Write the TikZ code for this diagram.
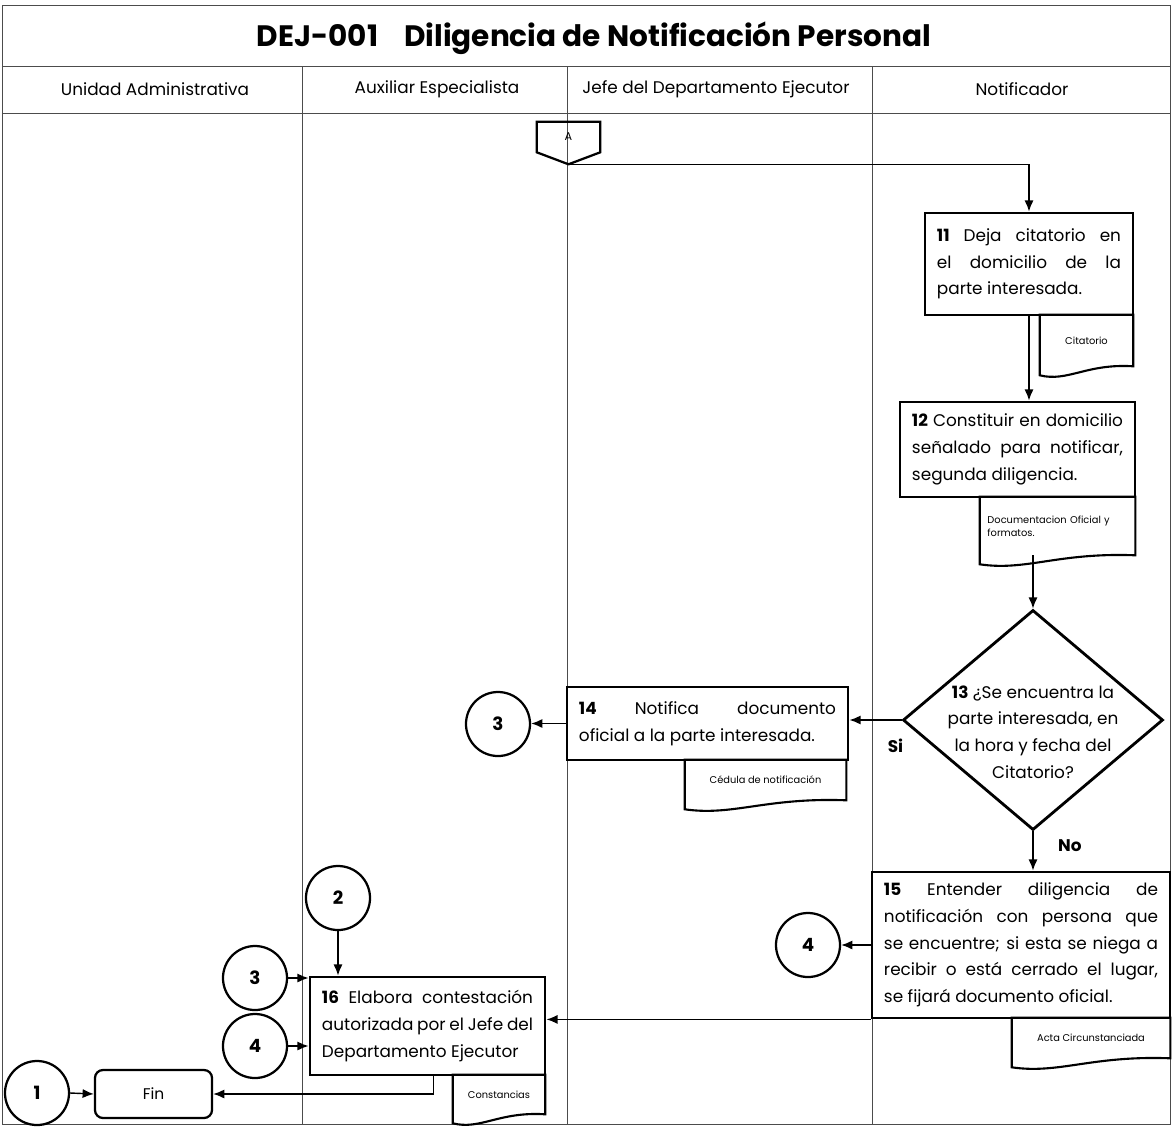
\documentclass[tikz,border=0pt]{standalone}
\usepackage{fontspec}
\setmainfont{Poppins}
\usetikzlibrary{shapes.geometric,arrows.meta,calc}

% document symbol: wavy bottom under a named node
\newcommand\docwave[1]{%
  \draw[docline] (#1.south east) .. controls ($(#1.south)+(0,-3)$)
    and ($(#1.south west)!.3!(#1.south east)+(0,16)$) .. ($(#1.south west)+(0,9)$)
    -- (#1.north west) -- (#1.north east) -- cycle;}

\tikzset{
  proc/.style={draw, line width=2pt, align=justify, inner xsep=0.3cm,
    font=\fontsize{12}{19}\selectfont},
  docline/.style={line width=1.5pt},
  doctext/.style={font=\fontsize{7}{9}\selectfont, inner sep=0},
  conn/.style={circle, draw, line width=1.6pt, minimum size=1.6cm,
    font=\bfseries\fontsize{13}{13}\selectfont},
  arr/.style={-{Latex[length=8pt,width=6.5pt]}, line width=1pt},
  lane/.style={line width=0.5pt, black!70},
  lanehead/.style={font=\fontsize{12}{12}\selectfont}
}

\begin{document}
\begin{tikzpicture}[x=0.025cm,y=-0.025cm]
  \useasboundingbox (0,0) rectangle (1172,1126);

  % frame, title and lanes
  \draw[lane] (2,5) rectangle (1170,1124);
  \draw[lane] (2,66) -- (1170,66);
  \draw[lane] (2,113) -- (1170,113);
  \foreach \x in {302,567,872} {
    \draw[lane] (\x,66) -- (\x,1124);
  }
  \node[font=\bfseries\fontsize{21}{21}\selectfont] (title) at (594,38)
    {DEJ-001\hspace{0.65cm}Diligencia de Notificación Personal};
  \node[lanehead] (h1) at (155,89) {Unidad Administrativa};
  \node[lanehead] (h2) at (437,89) {Auxiliar Especialista};
  \node[lanehead] (h3) at (716,89) {Jefe del Departamento Ejecutor};
  \node[lanehead] (h4) at (1022,89) {Notificador};

  % off-page connector A
  \node[inner sep=0, minimum width=1.575cm, minimum height=0.75cm,
    font=\fontsize{8}{8}\selectfont] (A) at (568.5,137) {A};
  \draw[line width=1.6pt] (A.north west) -- (A.north east) -- (A.south east)
    -- ($(A.south)+(0,12)$) -- (A.south west) -- cycle;
  \coordinate (Ap) at ($(A.south)+(0,12)$);

  % process boxes
  \node[proc, text width=4.6cm, minimum height=2.55cm] (b11) at (1029,264)
    {\textbf{11} Deja citatorio en\linebreak el domicilio de la\linebreak parte interesada.};
  \node[proc, text width=5.275cm, minimum height=2.375cm] (b12) at (1017.5,449.5)
    {\textbf{12} Constituir en domicilio señalado para notificar, segunda diligencia.};
  \node[diamond, draw, line width=2pt, inner sep=0, minimum width=6.5cm,
    minimum height=5.5cm] (d13) at (1033,720) {};
  \node[font=\fontsize{12}{19}\selectfont, align=center] (t13) at (1033,732)
    {\textbf{13} ¿Se encuentra la\\parte interesada, en\\la hora y fecha del\\Citatorio?};
  \node[proc, text width=6.425cm, minimum height=1.825cm] (b14) at (707.5,723.5)
    {\textbf{14} Notifica documento\linebreak oficial a la parte interesada.};
  \node[proc, text width=6.85cm, minimum height=3.65cm] (b15) at (1021,945)
    {\textbf{15} Entender diligencia de\linebreak notificación con persona que\linebreak
     se encuentre; si esta se niega a\linebreak recibir o está cerrado el lugar,\linebreak
     se fijará documento oficial.};
  \node[proc, text width=5.275cm, minimum height=2.45cm] (b16) at (427.5,1026)
    {\textbf{16} Elabora contestación\linebreak autorizada por el Jefe del\linebreak Departamento Ejecutor};
  \node[draw, line width=1.6pt, rounded corners=0.2cm, minimum width=2.925cm,
    minimum height=1.2cm, font=\fontsize{11}{11}\selectfont] (fin) at (153.5,1094) {Fin};

  % documents
  \node[doctext, minimum width=2.325cm, minimum height=1.275cm] (dc11) at (1086.5,340.5) {Citatorio};
  \docwave{dc11}
  \node[doctext, minimum width=3.875cm, minimum height=1.45cm, text width=3.5cm,
    align=left] (dc12) at (1057.5,526) {Documentacion Oficial y\\formatos.};
  \docwave{dc12}
  \node[doctext, minimum width=4.025cm, minimum height=1.0cm] (dc14) at (765.5,780) {Cédula de notificación};
  \docwave{dc14}
  \node[doctext, minimum width=3.95cm, minimum height=1.0cm] (dc15) at (1091,1038) {Acta Circunstanciada};
  \docwave{dc15}
  \node[doctext, minimum width=2.3cm, minimum height=0.975cm] (dc16) at (499,1094.5) {Constancias};
  \docwave{dc16}

  % connectors (circles)
  \node[conn] (c3a) at (498,724) {3};
  \node[conn] (c4a) at (808,945) {4};
  \node[conn] (c2) at (338,898) {2};
  \node[conn] (c3b) at (255,978) {3};
  \node[conn] (c4b) at (255,1046) {4};
  \node[conn] (c1) at (37,1093) {1};

  % flow
  \draw[arr] (Ap) -| (b11.north);
  \draw[arr] (b11.south) -- (b11.south |- b12.north);
  \draw[arr] (d13.north |- dc12.south) -- (d13.north);
  \draw[arr] (d13.west) -- (b14.east |- d13.west)
    node[pos=0, anchor=north east, xshift=5pt, yshift=-10pt,
      font=\bfseries\fontsize{12}{12}\selectfont] {Si};
  \draw[arr] (b14.west) -- (b14.west -| c3a.east);
  \draw[arr] (d13.south) -- (d13.south |- b15.north)
    node[pos=0.35, right=14pt, font=\bfseries\fontsize{12}{12}\selectfont] {No};
  \draw[arr] (b15.west) -- (c4a.east);
  \draw[arr] (b15.south west) -- (b15.south west -| b16.east);
  \draw[arr] (c2.south) -- (c2.south |- b16.north);
  \draw[arr] (c3b.east) -- (c3b.east -| b16.west);
  \draw[arr] (c4b.east) -- (c4b.east -| b16.west);
  \draw[arr] (c1.east) -- (fin.west);
  \draw[arr] ([xshift=0.15cm]b16.south) |- (fin.east);
\end{tikzpicture}
\end{document}
